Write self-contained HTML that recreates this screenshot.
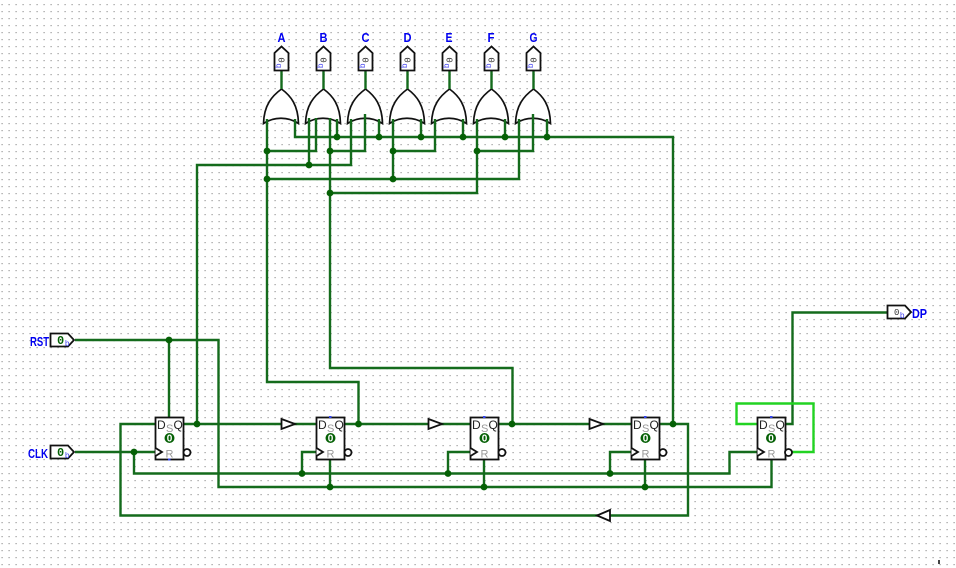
<!DOCTYPE html>
<html>
<head>
<meta charset="utf-8">
<style>
html,body{margin:0;padding:0;background:#fff;width:956px;height:568px;overflow:hidden}
svg{display:block}
text{font-family:"Liberation Sans",sans-serif}
.w{fill:none;stroke:#146b1c;stroke-width:2.4;stroke-linejoin:miter}
.g{fill:none;stroke:#22d322;stroke-width:2.4}
.j{fill:#056005}
.b{fill:#fff;stroke:#111;stroke-width:1.8}
.gate{fill:#fff;stroke:#111;stroke-width:1.7}
.lab{fill:#0000f0;font-weight:bold;font-size:13px}
.d{font-size:12px;fill:#222}
.s{font-size:11px;fill:#999}
.v{font-size:10px;fill:#fff;font-weight:bold}
.m{font-size:9px;fill:#333;font-family:"Liberation Mono",monospace}
.bl{font-size:8px;fill:#4444ee}
.p{font-size:12px;font-weight:bold;fill:#056005;font-family:"Liberation Mono",monospace}
</style>
</head>
<body>
<svg width="956" height="568" viewBox="0 0 956 568" xmlns="http://www.w3.org/2000/svg">
<defs>
<pattern id="dots" x="1" y="4" width="7" height="7" patternUnits="userSpaceOnUse">
<rect x="0.5" y="0" width="1.2" height="1.2" fill="#999"/>
</pattern>
</defs>
<rect width="956" height="568" fill="#fff"/>
<rect width="956" height="568" fill="url(#dots)"/>
<rect x="938" y="560" width="2" height="4" fill="#444"/>

<!-- OR gates -->
<path class="gate" d="M263.5 123.5C264 105 272 96 281.5 89C291 96 298 105 298.5 123.5C288 116.5 274 116.5 263.5 123.5Z"/>
<path class="gate" d="M305.5 123.5C306 105 314 96 323.5 89C333 96 340 105 340.5 123.5C330 116.5 316 116.5 305.5 123.5Z"/>
<path class="gate" d="M347.5 123.5C348 105 356 96 365.5 89C375 96 382 105 382.5 123.5C372 116.5 358 116.5 347.5 123.5Z"/>
<path class="gate" d="M389.5 123.5C390 105 398 96 407.5 89C417 96 424 105 424.5 123.5C414 116.5 400 116.5 389.5 123.5Z"/>
<path class="gate" d="M431.5 123.5C432 105 440 96 449.5 89C459 96 466 105 466.5 123.5C456 116.5 442 116.5 431.5 123.5Z"/>
<path class="gate" d="M473.5 123.5C474 105 482 96 491.5 89C501 96 508 105 508.5 123.5C498 116.5 484 116.5 473.5 123.5Z"/>
<path class="gate" d="M515.5 123.5C516 105 524 96 533.5 89C543 96 550 105 550.5 123.5C540 116.5 526 116.5 515.5 123.5Z"/>

<!-- dark wires -->
<path class="w" d="M281.5 70V89M323.5 70V89M365.5 70V89M407.5 70V89M449.5 70V89M491.5 70V89M533.5 70V89"/>
<path class="w" d="M295 119V137H673V424"/>
<path class="w" d="M337 119V137M379 119V137M421 119V137M463 119V137M505 119V137M547 119V137"/>
<path class="w" d="M267 119V382H358.500V424"/>
<path class="w" d="M267 151H316V118"/>
<path class="w" d="M330 118V368H512.500V424"/>
<path class="w" d="M330 151H365V114"/>
<path class="w" d="M309 118V165"/>
<path class="w" d="M197 424V165H351V119"/>
<path class="w" d="M393 119V179"/>
<path class="w" d="M393 151H435V119"/>
<path class="w" d="M267 179H519V119"/>
<path class="w" d="M477 119V193H330"/>
<path class="w" d="M477 151H533V114"/>

<path class="w" d="M75 340H218.500V487H771.500V460"/>
<path class="w" d="M169 340V417"/>
<path class="w" d="M330 460V487M484 460V487M645 460V487"/>
<path class="w" d="M75 452H155"/>
<path class="w" d="M134 452V473.500H729.500V452H757"/>
<path class="w" d="M302 473.500V452H316M448 473.500V452H470M610 473.500V452H631"/>
<path class="w" d="M155 424H120.500V515.500H688V424H660"/>
<path class="w" d="M184 424H316M345 424H470M498 424H631"/>
<path class="w" d="M786 424H792.500V312.500H887"/>
<path class="g" d="M792 452H813.500V403.500H736.500V424H757"/>

<!-- junctions -->
<g class="j">
<circle cx="337" cy="137" r="3.400"/><circle cx="379" cy="137" r="3.400"/><circle cx="421" cy="137" r="3.400"/><circle cx="463" cy="137" r="3.400"/><circle cx="505" cy="137" r="3.400"/><circle cx="547" cy="137" r="3.400"/>
<circle cx="267" cy="151" r="3.400"/><circle cx="330" cy="151" r="3.400"/><circle cx="393" cy="151" r="3.400"/><circle cx="477" cy="151" r="3.400"/>
<circle cx="309" cy="165" r="3.400"/>
<circle cx="267" cy="179" r="3.400"/><circle cx="393" cy="179" r="3.400"/>
<circle cx="330" cy="193" r="3.400"/>
<circle cx="169" cy="340" r="3.400"/>
<circle cx="197" cy="424" r="3.400"/><circle cx="358.500" cy="424" r="3.400"/><circle cx="512" cy="424" r="3.400"/><circle cx="673" cy="424" r="3.400"/>
<circle cx="134" cy="452" r="3.400"/>
<circle cx="302" cy="473.500" r="3.400"/><circle cx="448" cy="473.500" r="3.400"/><circle cx="610" cy="473.500" r="3.400"/>
<circle cx="330" cy="487" r="3.400"/><circle cx="484" cy="487" r="3.400"/><circle cx="645" cy="487" r="3.400"/>
</g>

<!-- buffers -->
<path class="b" d="M281.500 419L295 424L281.500 429Z"/>
<path class="b" d="M428.500 419L442 424L428.500 429Z"/>
<path class="b" d="M589.500 419L603 424L589.500 429Z"/>
<path class="b" d="M610 510L597 515.500L610 521Z"/>

<!-- flip flops -->
<g>
<rect class="b" x="155.500" y="417.500" width="28" height="42"/>
<path class="b" d="M155.500 448L162 452L155.500 456" />
<circle class="b" cx="187" cy="452.500" r="3.500"/>
<circle cx="169.500" cy="438" r="5" fill="#056005"/>
<text class="d" x="157" y="429">D</text><text class="d" x="173.500" y="429">Q</text>
<text class="s" x="166" y="432">S</text><text class="s" x="165.500" y="457.500">R</text>
<text class="v" x="169.500" y="441.500" text-anchor="middle">0</text>
<rect x="168" y="458.500" width="2.500" height="2" fill="#3344ee"/>
</g>
<g>
<rect class="b" x="316.500" y="417.500" width="28" height="42"/>
<path class="b" d="M316.500 448L323 452L316.500 456"/>
<circle class="b" cx="348" cy="452.500" r="3.500"/>
<circle cx="330.500" cy="438" r="5" fill="#056005"/>
<text class="d" x="318" y="429">D</text><text class="d" x="334.500" y="429">Q</text>
<text class="s" x="327" y="432">S</text><text class="s" x="326.500" y="457.500">R</text>
<text class="v" x="330.500" y="441.500" text-anchor="middle">0</text>
<rect x="329" y="416" width="2.500" height="2" fill="#3344ee"/>
</g>
<g>
<rect class="b" x="470.500" y="417.500" width="28" height="42"/>
<path class="b" d="M470.500 448L477 452L470.500 456"/>
<circle class="b" cx="502" cy="452.500" r="3.500"/>
<circle cx="484.500" cy="438" r="5" fill="#056005"/>
<text class="d" x="472" y="429">D</text><text class="d" x="488.500" y="429">Q</text>
<text class="s" x="481" y="432">S</text><text class="s" x="480.500" y="457.500">R</text>
<text class="v" x="484.500" y="441.500" text-anchor="middle">0</text>
<rect x="483" y="416" width="2.500" height="2" fill="#3344ee"/>
</g>
<g>
<rect class="b" x="631.500" y="417.500" width="28" height="42"/>
<path class="b" d="M631.500 448L638 452L631.500 456"/>
<circle class="b" cx="663" cy="452.500" r="3.500"/>
<circle cx="645.500" cy="438" r="5" fill="#056005"/>
<text class="d" x="633" y="429">D</text><text class="d" x="649.500" y="429">Q</text>
<text class="s" x="642" y="432">S</text><text class="s" x="641.500" y="457.500">R</text>
<text class="v" x="645.500" y="441.500" text-anchor="middle">0</text>
<rect x="644" y="416" width="2.500" height="2" fill="#3344ee"/>
</g>
<g>
<rect class="b" x="757.500" y="417.500" width="28" height="42"/>
<path class="b" d="M757.500 448L764 452L757.500 456"/>
<circle class="b" cx="788.500" cy="452.500" r="3.500"/>
<circle cx="771" cy="438" r="5" fill="#056005"/>
<text class="d" x="759" y="429">D</text><text class="d" x="775.500" y="429">Q</text>
<text class="s" x="768" y="432">S</text><text class="s" x="767.500" y="457.500">R</text>
<text class="v" x="771" y="441.500" text-anchor="middle">0</text>
<rect x="770" y="416" width="2.500" height="2" fill="#3344ee"/>
</g>

<!-- input pins -->
<path class="b" d="M50.500 333.500H68L74 340L68 346.500H50.500Z"/>
<text class="p" x="57" y="344">0</text><text class="bl" x="65" y="346">b</text>
<path class="b" d="M50.500 445.500H68L74 452L68 458.500H50.500Z"/>
<text class="p" x="57" y="456">0</text><text class="bl" x="65" y="458">b</text>
<!-- output DP -->
<path class="b" d="M887.500 305.500H905L911 312L905 318.500H887.500Z"/>
<text class="m" x="894" y="315">0</text><text class="bl" x="900" y="318">b</text>

<!-- top output pins -->
<path class="b" d="M274.500 70.500V53L281.500 46.500L288.500 53V70.500Z"/>
<text class="m" transform="translate(284.500 60) rotate(-90)" text-anchor="middle">0</text><text class="bl" transform="translate(281 68) rotate(-90)">b</text>
<path class="b" d="M316.500 70.500V53L323.500 46.500L330.500 53V70.500Z"/>
<text class="m" transform="translate(326.500 60) rotate(-90)" text-anchor="middle">0</text><text class="bl" transform="translate(323 68) rotate(-90)">b</text>
<path class="b" d="M358.500 70.500V53L365.500 46.500L372.500 53V70.500Z"/>
<text class="m" transform="translate(368.500 60) rotate(-90)" text-anchor="middle">0</text><text class="bl" transform="translate(365 68) rotate(-90)">b</text>
<path class="b" d="M400.500 70.500V53L407.500 46.500L414.500 53V70.500Z"/>
<text class="m" transform="translate(410.500 60) rotate(-90)" text-anchor="middle">0</text><text class="bl" transform="translate(407 68) rotate(-90)">b</text>
<path class="b" d="M442.500 70.500V53L449.500 46.500L456.500 53V70.500Z"/>
<text class="m" transform="translate(452.500 60) rotate(-90)" text-anchor="middle">0</text><text class="bl" transform="translate(449 68) rotate(-90)">b</text>
<path class="b" d="M484.500 70.500V53L491.500 46.500L498.500 53V70.500Z"/>
<text class="m" transform="translate(494.500 60) rotate(-90)" text-anchor="middle">0</text><text class="bl" transform="translate(491 68) rotate(-90)">b</text>
<path class="b" d="M526.500 70.500V53L533.500 46.500L540.500 53V70.500Z"/>
<text class="m" transform="translate(536.500 60) rotate(-90)" text-anchor="middle">0</text><text class="bl" transform="translate(533 68) rotate(-90)">b</text>

<!-- labels -->
<g class="lab" text-anchor="middle">
<text x="281.500" y="42" textLength="8" lengthAdjust="spacingAndGlyphs">A</text><text x="323.500" y="42" textLength="8" lengthAdjust="spacingAndGlyphs">B</text><text x="365.500" y="42" textLength="8" lengthAdjust="spacingAndGlyphs">C</text><text x="407.500" y="42" textLength="8" lengthAdjust="spacingAndGlyphs">D</text><text x="449" y="42" textLength="7" lengthAdjust="spacingAndGlyphs">E</text><text x="491" y="42" textLength="7" lengthAdjust="spacingAndGlyphs">F</text><text x="533.500" y="42" textLength="8" lengthAdjust="spacingAndGlyphs">G</text>
</g>
<text class="lab" x="30" y="346" textLength="19" lengthAdjust="spacingAndGlyphs">RST</text>
<text class="lab" x="28" y="458" textLength="20" lengthAdjust="spacingAndGlyphs">CLK</text>
<text class="lab" x="912" y="318" textLength="15" lengthAdjust="spacingAndGlyphs">DP</text>
</svg>
</body>
</html>
